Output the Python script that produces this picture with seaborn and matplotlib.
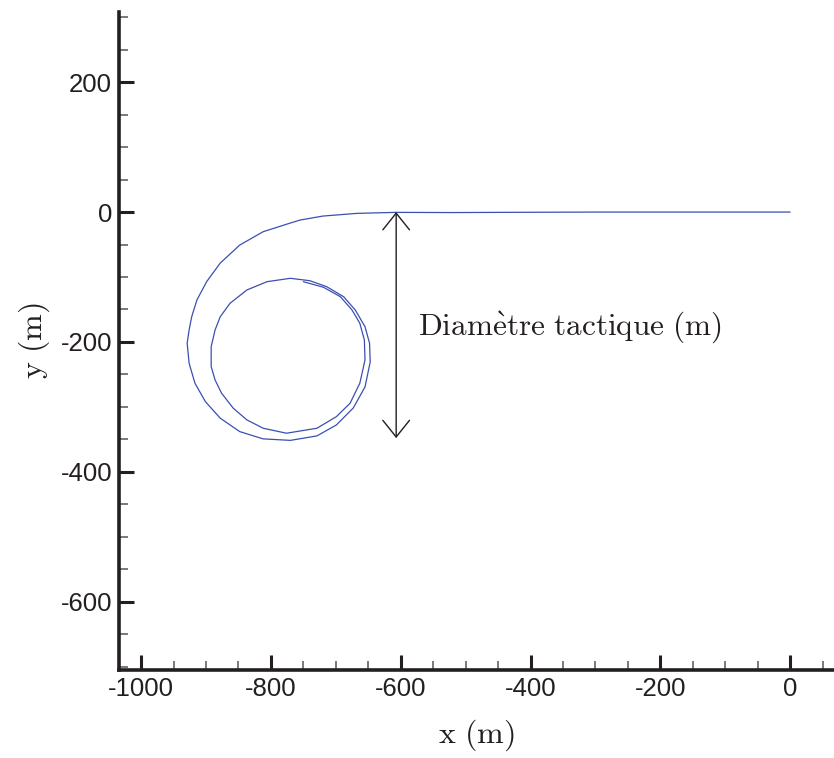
import matplotlib
matplotlib.use("Agg")
import matplotlib.pyplot as plt
import seaborn as sns
from matplotlib.ticker import MultipleLocator

# trajectory of the turning test (m)
x_traj = [0, -293, -447, -524, -607, -667, -720, -755, -770, -812, -848,
          -878, -899, -914, -922, -926, -929, -926, -917, -901, -878, -848,
          -812, -770, -729, -699, -673, -655, -647, -648, -655, -670, -688,
          -714, -740, -770,
          -806, -837, -863, -878, -886, -892, -892, -886, -876, -858, -837,
          -812, -776, -729, -699, -678, -663, -655, -656, -663, -675, -693,
          -719, -750]
y_traj = [0, 0, -0.5, -0.8, -0.5, -2.0, -6.2, -12.3, -16.9, -30.3, -50.8,
          -78.5, -107.2, -135.4, -161.1, -181.5, -202.0, -232.8, -263.5,
          -291.8, -317.4, -338.0, -349.2, -351.5, -344.6, -327.7, -301.5,
          -269.2, -230.8, -202.0, -176.5, -150.8, -130.3, -114.9, -105.7,
          -102.0,
          -107.2, -120.0, -140.5, -161.1, -181.5, -207.2, -238.0, -258.5,
          -278.9, -302.0, -320.0, -332.8, -340.5, -332.8, -314.9, -294.3,
          -263.5, -227.7, -196.9, -171.2, -150.8, -130.3, -115.8, -107.2]

# tactical diameter marker
diam_x = -607
diam_top = 0
diam_bottom = -348
diam_label = r"$\mathrm{Diam\grave{e}tre\ tactique\ (m)}$"

sns.set_style("white")
plt.rcParams["mathtext.fontset"] = "cm"
plt.rcParams["axes.unicode_minus"] = False
plt.rcParams["font.family"] = ["Liberation Sans", "DejaVu Sans"]

fig = plt.figure(figsize=(8.34, 7.58), dpi=100)
ax = fig.add_axes([0.1427, 0.1161, 0.8561, 0.8681])

sns.lineplot(x=x_traj, y=y_traj, sort=False, estimator=None, ax=ax,
             color="#3b4fb2", linewidth=0.9)

ax.annotate("", xy=(diam_x, diam_top), xytext=(diam_x, diam_bottom),
            arrowprops=dict(arrowstyle="<->,head_length=0.6,head_width=0.48",
                            color="#231f20", lw=1.0, shrinkA=0, shrinkB=0,
                            mutation_scale=20))
ax.text(-573, -178, diam_label, fontsize=22.5, color="#231f20",
        va="center", ha="left")

ax.set_xlim(-1034, 66)
ax.set_ylim(-705, 308)
ax.xaxis.set_major_locator(MultipleLocator(200))
ax.xaxis.set_minor_locator(MultipleLocator(50))
ax.yaxis.set_major_locator(MultipleLocator(200))
ax.yaxis.set_minor_locator(MultipleLocator(50))

for s in ["top", "right"]:
    ax.spines[s].set_visible(False)
for s in ["left", "bottom"]:
    ax.spines[s].set_linewidth(2.6)
    ax.spines[s].set_color("#231f20")

ax.tick_params(which="both", bottom=True, left=True, top=False, right=False)
ax.tick_params(which="major", direction="in", length=11, width=2.2,
               color="#231f20", labelsize=18.5, labelcolor="#231f20", pad=5)
ax.tick_params(which="minor", direction="in", length=6.5, width=1.1,
               color="#555555")

ax.set_xlabel(r"$\mathrm{x\ (m)}$", fontsize=23, color="#231f20", labelpad=12)
ax.set_ylabel(r"$\mathrm{y\ (m)}$", fontsize=23, color="#231f20", labelpad=6)

fig.savefig("out.png", dpi=100)
